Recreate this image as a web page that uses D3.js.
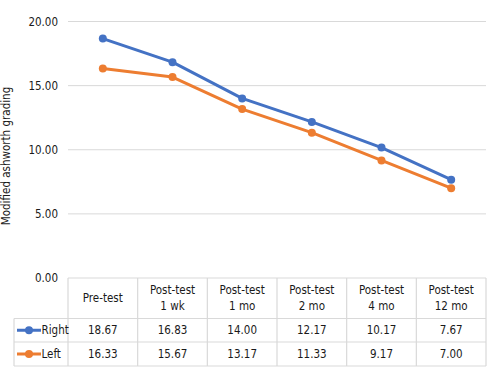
<!DOCTYPE html>
<html><head><meta charset="utf-8">
<script src="https://cdn.jsdelivr.net/npm/d3@7/dist/d3.min.js"></script>
<style>body{margin:0;background:#fff}svg{display:block}text{font-family:"DejaVu Sans Condensed","DejaVu Sans",Verdana,sans-serif;font-stretch:condensed;fill:#1a1a1a}</style>
</head><body><svg id="c" width="500" height="377"></svg>
<script>
const categories = [["Pre-test"],["Post-test","1 wk"],["Post-test","1 mo"],["Post-test","2 mo"],["Post-test","4 mo"],["Post-test","12 mo"]];
const rightValues = [18.67,16.83,14.00,12.17,10.17,7.67];
const leftValues = [16.33,15.67,13.17,11.33,9.17,7.00];
const yTicks = [0,5,10,15,20];
const seriesNames = ["Right","Left"];
const seriesColors = ["#4472C4","#ED7D31"];
const series = [rightValues,leftValues];

const FS = "11.5px";
const svg = d3.select("#c");
const x0 = 68, x1 = 486, yTop = 21.5, yBot = 278;
const x = d3.scaleBand().domain(d3.range(categories.length)).range([x0,x1]);
const y = d3.scaleLinear().domain([0,20]).range([yBot,yTop]);

// gridlines
svg.append("g").selectAll("line").data(yTicks.filter(t=>t>0)).join("line")
  .attr("x1",x0).attr("x2",x1).attr("y1",d=>y(d)).attr("y2",d=>y(d))
  .attr("stroke","#d9d9d9").attr("stroke-width",1);
// y tick labels
svg.append("g").selectAll("text").data(yTicks).join("text")
  .attr("x",58).attr("y",d=>y(d)).attr("dy","0.35em").attr("text-anchor","end")
  .attr("font-size",FS).text(d=>d3.format(".2f")(d));
// y title
svg.append("text").attr("transform","translate(10,156) rotate(-90)")
  .attr("text-anchor","middle").attr("font-size","11.5px").text("Modified ashworth grading");

// lines
const line = d3.line().x((d,i)=>x(i)+x.bandwidth()/2).y(d=>y(d));
series.forEach((vals,si)=>{
  svg.append("path").datum(vals).attr("d",line).attr("fill","none")
    .attr("stroke",seriesColors[si]).attr("stroke-width",3).attr("stroke-linejoin","round");
  svg.append("g").selectAll("circle").data(vals).join("circle")
    .attr("cx",(d,i)=>x(i)+x.bandwidth()/2).attr("cy",d=>y(d)).attr("r",4)
    .attr("fill",seriesColors[si]);
});

// data table
const tblBorder = "#d9d9d9";
const rowTops = [278, 318.5, 342, 366];
const legLeft = 14;
const tg = svg.append("g").attr("stroke",tblBorder).attr("stroke-width",1.2).attr("fill","none");
tg.append("line").attr("x1",x0).attr("x2",x1).attr("y1",rowTops[0]).attr("y2",rowTops[0]);
[1,2,3].forEach(k=>tg.append("line").attr("x1",legLeft).attr("x2",x1).attr("y1",rowTops[k]).attr("y2",rowTops[k]));
d3.range(categories.length+1).forEach(i=>{
  const xx = i<categories.length ? x(i) : x1;
  tg.append("line").attr("x1",xx).attr("x2",xx).attr("y1",rowTops[0]).attr("y2",rowTops[3]);
});
tg.append("line").attr("x1",legLeft).attr("x2",legLeft).attr("y1",rowTops[1]).attr("y2",rowTops[3]);

// header text
categories.forEach((lines,i)=>{
  const cx = x(i)+x.bandwidth()/2;
  const mid = (rowTops[0]+rowTops[1])/2 - 0.5;
  lines.forEach((s,k)=>{
    svg.append("text").attr("x",cx).attr("y",mid + (k-(lines.length-1)/2)*15.5).attr("dy","0.35em")
      .attr("text-anchor","middle").attr("font-size",FS).text(s);
  });
});
// rows
series.forEach((vals,si)=>{
  const cy = (rowTops[si+1]+rowTops[si+2])/2;
  svg.append("line").attr("x1",17).attr("x2",41).attr("y1",cy).attr("y2",cy)
    .attr("stroke",seriesColors[si]).attr("stroke-width",3);
  svg.append("circle").attr("cx",29).attr("cy",cy).attr("r",4).attr("fill",seriesColors[si]);
  svg.append("text").attr("x",41.5).attr("y",cy).attr("dy","0.35em").attr("font-size",FS).text(seriesNames[si]);
  vals.forEach((v,i)=>{
    svg.append("text").attr("x",x(i)+x.bandwidth()/2).attr("y",cy).attr("dy","0.35em")
      .attr("text-anchor","middle").attr("font-size",FS).text(d3.format(".2f")(v));
  });
});
</script></body></html>
